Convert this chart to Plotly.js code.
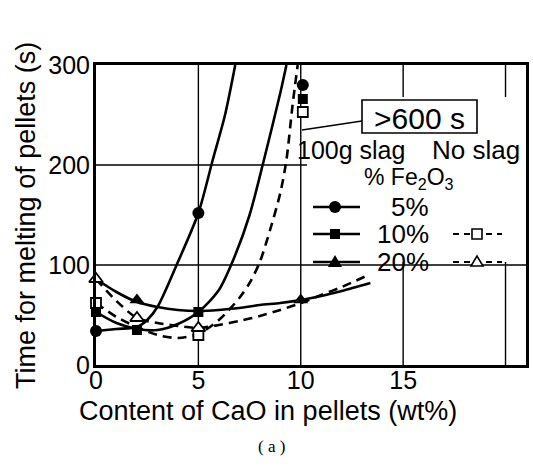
<!DOCTYPE html>
<html>
<head>
<meta charset="utf-8">
<script src="https://cdn.plot.ly/plotly-3.0.1.min.js"></script>
<style>html,body{margin:0;padding:0;background:#fff}#chart{width:533px;height:466px}</style>
</head>
<body>
<div id="chart"></div>
<script>
// Measured points (CaO wt%, time s)
const slag5X = [0, 5, 10.1];
const slag5Y = [34, 152, 280];
const slag10X = [0, 2, 5, 10.1];
const slag10Y = [53, 35, 53, 266];
const slag20X = [2, 10];
const slag20Y = [65, 65];
const noslag10X = [0, 5, 10.1];
const noslag10Y = [62, 30, 253];
const noslag20X = [0, 2, 5];
const noslag20Y = [86, 47, 37];

// Fitted curves
const fitSlag5X = [0, 1, 2, 2.5, 3, 4, 5, 5.7, 6.3, 6.8];
const fitSlag5Y = [34, 36, 38, 45, 58, 103, 152, 205, 250, 300];
const fitSlag10X = [0, 1, 2, 3, 4, 5, 6, 6.8, 7.5, 8.2, 9, 9.3];
const fitSlag10Y = [53, 42, 36, 35, 41, 53, 75, 110, 150, 205, 272, 300];
const fitSlag20X = [0, 1, 2, 3, 4, 5, 6, 7, 8, 9, 10, 11, 12, 13.4];
const fitSlag20Y = [86, 73, 63, 58, 55, 54, 55, 57, 60, 62, 65, 69, 74, 82];
const fitNoslag10X = [0, 1, 2, 3, 4, 5, 6, 7, 7.5, 8, 8.5, 9, 9.3, 9.6, 9.85];
const fitNoslag10Y = [62, 48, 38, 30, 27, 31, 45, 67, 82, 103, 135, 172, 205, 260, 300];
const fitNoslag20X = [0, 1, 2, 3, 4, 5, 6, 7, 8, 9, 10, 11, 12, 13.3];
const fitNoslag20Y = [86, 64, 47, 42, 39, 37, 40, 44, 49, 55, 62, 70, 78, 90];

const xTicks = [0, 5, 10, 15];
const yTicks = [0, 100, 200, 300];
const xTitle = 'Content of CaO in pellets (wt%)';
const yTitle = 'Time for melting of pellets (s)';

const FONT = 'Liberation Sans, Arial, sans-serif';
const solid = {color: '#000', width: 2.6, shape: 'spline', smoothing: 0.8};
const dashed = {color: '#000', width: 2.6, shape: 'spline', smoothing: 0.8, dash: '9px,6px'};

const lineTraces = [
  {x: fitSlag5X, y: fitSlag5Y, line: solid},
  {x: fitSlag10X, y: fitSlag10Y, line: solid},
  {x: fitSlag20X, y: fitSlag20Y, line: solid},
  {x: fitNoslag10X, y: fitNoslag10Y, line: dashed},
  {x: fitNoslag20X, y: fitNoslag20Y, line: dashed}
].map(t => Object.assign({mode: 'lines', showlegend: false, hoverinfo: 'skip', cliponaxis: true}, t));

const markerTraces = [
  {x: noslag10X, y: noslag10Y, marker: {symbol: 'square', size: 10, color: '#fff', line: {color: '#000', width: 1.8}}},
  {x: noslag20X, y: noslag20Y, marker: {symbol: 'triangle-up', size: 12, color: '#fff', line: {color: '#000', width: 1.8}}},
  {x: slag5X, y: slag5Y, marker: {symbol: 'circle', size: 12, color: '#000'}},
  {x: slag10X, y: slag10Y, marker: {symbol: 'square', size: 10, color: '#000'}},
  {x: slag20X, y: slag20Y, marker: {symbol: 'triangle-up', size: 13, color: '#000'}}
].map(t => Object.assign({mode: 'markers', showlegend: false, hoverinfo: 'skip', cliponaxis: false}, t));

// legend decoration (px -> data helpers)
const px2x = p => (p - 96) / 20.476;
const py2y = p => 365 - p;
const rows = [207, 234, 262];
const shapes = [];
[100, 200].forEach(v => shapes.push({type: 'line', layer: 'below', x0: 0, x1: 21, y0: v, y1: v, line: {color: '#000', width: 1.4}}));
[5, 10, 15, 20].forEach(v => shapes.push({type: 'line', layer: 'below', x0: v, x1: v, y0: 0, y1: 300, line: {color: '#000', width: 1.4}}));
shapes.push({type: 'rect', layer: 'between', x0: px2x(307), x1: 21, y0: py2y(262), y1: py2y(97), fillcolor: '#fff', line: {width: 0}});
// ">600 s" box and pointer
shapes.push({type: 'rect', x0: px2x(362), x1: px2x(477), y0: py2y(133), y1: py2y(100), fillcolor: 'rgba(0,0,0,0)', line: {color: '#000', width: 1.6}});
shapes.push({type: 'line', x0: px2x(362), x1: px2x(302), y0: py2y(121), y1: py2y(130), line: {color: '#000', width: 1.5}});
rows.forEach((r, i) => {
  shapes.push({type: 'line', x0: px2x(313), x1: px2x(360), y0: py2y(r), y1: py2y(r), line: {color: '#000', width: 2.6}});
  if (i > 0) shapes.push({type: 'line', x0: px2x(453), x1: px2x(502), y0: py2y(r), y1: py2y(r), line: {color: '#000', width: 2, dash: '6px,5px'}});
});
const mx = px2x(335), mx2 = px2x(477);
shapes.push({type: 'circle', xsizemode: 'pixel', ysizemode: 'pixel', xanchor: mx, yanchor: py2y(rows[0]), x0: -6, x1: 6, y0: -6, y1: 6, fillcolor: '#000', line: {width: 0}});
shapes.push({type: 'rect', xsizemode: 'pixel', ysizemode: 'pixel', xanchor: mx, yanchor: py2y(rows[1]), x0: -5, x1: 5, y0: -5, y1: 5, fillcolor: '#000', line: {width: 0}});
shapes.push({type: 'path', xsizemode: 'pixel', ysizemode: 'pixel', xanchor: mx, yanchor: py2y(rows[2]), path: 'M -7 -5 L 7 -5 L 0 7 Z', fillcolor: '#000', line: {width: 0}});
shapes.push({type: 'rect', xsizemode: 'pixel', ysizemode: 'pixel', xanchor: mx2, yanchor: py2y(rows[1]), x0: -5, x1: 5, y0: -5, y1: 5, fillcolor: '#fff', line: {color: '#000', width: 1.6}});
shapes.push({type: 'path', xsizemode: 'pixel', ysizemode: 'pixel', xanchor: mx2, yanchor: py2y(rows[2]), path: 'M -6 -4 L 6 -4 L 0 6 Z', fillcolor: '#fff', line: {color: '#000', width: 1.6}});

const f = s => ({family: FONT, size: s, color: '#000'});
const annotations = [
  {x: px2x(419), y: py2y(118), text: '&gt;600 s', font: f(30)},
  {x: px2x(351), y: py2y(150), text: '100g slag', font: f(25)},
  {x: px2x(476), y: py2y(150), text: 'No slag', font: f(26)},
  {x: px2x(409), y: py2y(178), text: '% Fe<sub>2</sub>O<sub>3</sub>', font: f(23)},
  {x: px2x(431), y: py2y(rows[0]), xanchor: 'right', text: '5%', font: f(26)},
  {x: px2x(431), y: py2y(rows[1]), xanchor: 'right', text: '10%', font: f(26)},
  {x: px2x(431), y: py2y(rows[2]), xanchor: 'right', text: '20%', font: f(26)}
].map(a => Object.assign({xref: 'x', yref: 'y', showarrow: false}, a));
annotations.push({x: 0.4, y: -0.153, xref: 'paper', yref: 'paper', xanchor: 'center', yanchor: 'middle', text: xTitle, showarrow: false, font: f(27)});
annotations.push({x: -0.163, y: 0.5, xref: 'paper', yref: 'paper', xanchor: 'center', yanchor: 'middle', textangle: -90, text: yTitle, showarrow: false, font: f(27)});
annotations.push({x: 0.409, y: -0.27, xref: 'paper', yref: 'paper', xanchor: 'center', yanchor: 'middle', text: '( a )', showarrow: false, font: {family: 'Liberation Serif, serif', size: 17, color: '#000'}});

const layout = {
  width: 533, height: 466,
  margin: {l: 96, r: 7, t: 65, b: 101},
  paper_bgcolor: '#fff', plot_bgcolor: '#fff',
  font: {family: FONT, color: '#000'},
  showlegend: false,
  xaxis: {
    range: [0, 21], tickvals: xTicks, ticktext: xTicks.map(String),
    showgrid: false, zeroline: false,
    showline: true, linecolor: '#000', linewidth: 3, mirror: true,
    ticks: '', ticklabelstandoff: -9, tickfont: f(25)
  },
  yaxis: {
    range: [0, 300], tickvals: yTicks, ticktext: yTicks.map(String),
    showgrid: false, zeroline: false,
    showline: true, linecolor: '#000', linewidth: 3, mirror: true,
    ticks: '', ticklabelstandoff: -2, tickfont: f(25)
  },
  shapes: shapes,
  annotations: annotations
};

Plotly.newPlot('chart', lineTraces.concat(markerTraces), layout, {staticPlot: true, displayModeBar: false});
</script>
</body>
</html>
